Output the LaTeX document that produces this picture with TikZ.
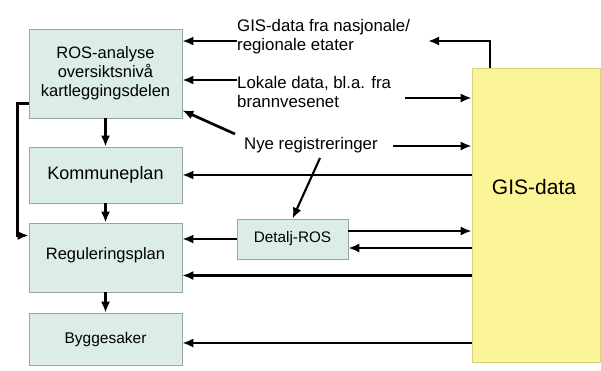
\documentclass[tikz,border=0pt]{standalone}
\usepackage{fontspec}
\setmainfont{Liberation Sans}
\usetikzlibrary{arrows.meta}
\definecolor{boxfill}{HTML}{DCEDE9}
\definecolor{boxline}{HTML}{9AA5A3}
\definecolor{gisfill}{HTML}{FBF597}
\definecolor{gisline}{HTML}{D9D27A}

\begin{document}
\begin{tikzpicture}[x=1pt,y=-1pt,>={Latex[length=11pt,width=9pt]},
  plan/.style={rectangle,draw=boxline,fill=boxfill,line width=.6pt,minimum width=153pt,align=center,font=\fontsize{16.5}{19}\selectfont,inner sep=0pt},
  lab/.style={anchor=west,align=left,font=\fontsize{16.8}{19}\selectfont,inner sep=0pt},
  fat/.style={->,line width=2.7pt},
  thin/.style={->,line width=2.1pt}]
\useasboundingbox (0,0) rectangle (601,370);

\node[plan,minimum height=89pt] (ros) at (105.5,73.5) {ROS-analyse\\oversiktsnivå\\kartleggingsdelen};
\node[plan,minimum height=56pt,font=\fontsize{18}{20}\selectfont] (komm) at (105.5,175) {Kommuneplan};
\node[plan,minimum height=69pt,text depth=8pt] (reg) at (105.5,257.5) {Reguleringsplan};
\node[plan,minimum height=52pt,font=\fontsize{15.5}{18}\selectfont] (bygg) at (105.5,339) {Byggesaker};
\node[plan,minimum width=111pt,minimum height=40pt,font=\fontsize{15.3}{18}\selectfont] (detalj) at (292.5,239) {Detalj-ROS};
\node[rectangle,draw=gisline,fill=gisfill,line width=.6pt,minimum width=128pt,minimum height=294pt] (gis) at (536,215) {};
\node[font=\fontsize{21}{24}\selectfont] (gistxt) at (534,187) {GIS-data};

\node[lab] (lab1) at (237,37) {GIS-data fra nasjonale/\\regionale etater};
\node[lab] (lab2) at (237,92) {Lokale data, bl.a. fra\\brannvesenet};
\node[lab] (lab3) at (244,145) {Nye registreringer};

\coordinate (c1) at (428,41);
\coordinate (c2) at (405,98);
\coordinate (c3) at (235,134);
\coordinate (c4) at (393,146);
\coordinate (c5) at (320,158);
\coordinate (d1) at ([yshift=8pt]detalj.east);
\coordinate (d2) at ([yshift=-9pt]detalj.east);
\coordinate (r1) at ([yshift=-18pt]reg.east);
\coordinate (b1) at ([yshift=-4pt]bygg.east);

\draw[fat] ([yshift=-4pt]lab1.west) -- (ros.east |- c1);
\draw[fat] ([yshift=12pt]lab2.west) -- ([yshift=-6.5pt]ros.east);
\draw[fat] (c3) -- ([yshift=8pt]ros.south east);
\draw[fat] ([xshift=-46pt]gis.north) |- (c1);
\draw[fat] (c2) -- (gis.west |- c2);
\draw[fat] (c4) -- (gis.west |- c4);
\draw[thin] (c5) -- (detalj.north);
\draw[fat] (gis.west |- komm.east) -- (komm.east);
\draw[thin] (d1) -- (gis.west |- d1);
\draw[thin] (gis.west |- d2) -- (d2);
\draw[fat] (detalj.west) -- (reg.east |- detalj.west);
\draw[thin] (gis.west |- r1) -- (r1);
\draw[thin] (gis.west |- b1) -- (b1);
\draw[fat] (ros) -- (komm);
\draw[fat] (komm) -- (reg);
\draw[fat] (reg) -- (bygg);
\draw[fat] ([yshift=-30pt]ros.west) -- ++(-11,0) |- ([yshift=22pt]reg.west);
    %
\end{tikzpicture}
\end{document}
